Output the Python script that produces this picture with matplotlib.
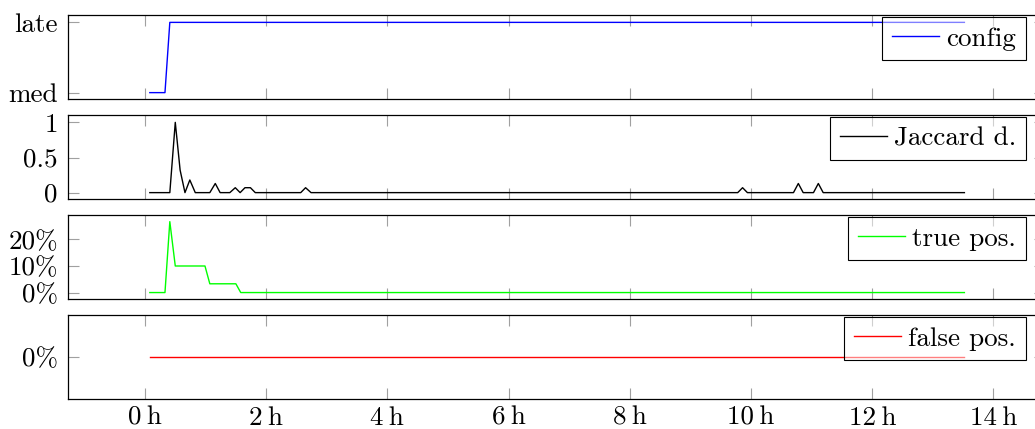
import matplotlib
matplotlib.use("Agg")
import matplotlib.pyplot as plt

# ---------------- data ----------------
config_levels = ["med", "late"]
config_t = [0.08, 0.33, 0.41, 13.52]
config_v = ["med", "med", "late", "late"]

jacc_t = [0.08, 0.41, 0.50, 0.58, 0.66, 0.74, 0.83, 1.07, 1.16, 1.24, 1.40, 1.49,
          1.57, 1.65, 1.74, 1.82, 2.57, 2.65, 2.74, 9.78, 9.86, 9.94, 10.70, 10.78,
          10.86, 11.03, 11.11, 11.19, 13.52]
jacc_v = [0, 0, 1.0, 0.32, 0, 0.18, 0, 0, 0.13, 0, 0, 0.07,
          0, 0.07, 0.07, 0, 0, 0.07, 0, 0, 0.07, 0, 0, 0.13,
          0, 0, 0.13, 0, 0]

tp_t = [0.08, 0.33, 0.41, 0.50, 0.99, 1.07, 1.50, 1.58, 13.52]
tp_v = [0, 0, 26.7, 10, 10, 3.3, 3.3, 0, 0]

fp_t = [0.08, 13.52]
fp_v = [0, 0]

x_ticks = [0, 2, 4, 6, 8, 10, 12, 14]
x_ticklabels = [f"{h}\u2009h" for h in x_ticks]

# ---------------- style ----------------
FONT = ["cmr10", "DejaVu Serif"]
plt.rcParams["font.family"] = FONT
plt.rcParams["axes.formatter.use_mathtext"] = True
FS = 19.5

W, H = 1035, 429
fig = plt.figure(figsize=(W / 100, H / 100), dpi=100)

left_px, right_px = 68.3, 1045
xlim = (-1.265, 14.85)


def make_ax(i):
    top = 15 + 100 * i
    bot = 99.3 + 100 * i
    ax = fig.add_axes([left_px / W, 1 - bot / H, (right_px - left_px) / W, (bot - top) / H])
    ax.set_xlim(*xlim)
    ax.set_xticks(x_ticks)
    for s in ax.spines.values():
        s.set_linewidth(0.9)
        s.set_color("black")
    ax.tick_params(direction="in", length=8, width=0.8, color="#a0a0a0",
                   top=True, right=True, labelsize=FS, pad=7.5)
    ax.tick_params(axis="x", pad=5)
    return ax


def add_legend(ax, right_px_, top_px_):
    leg = ax.legend(loc="upper right",
                    bbox_to_anchor=(right_px_ / W, 1 - top_px_ / H),
                    bbox_transform=fig.transFigure, borderaxespad=0,
                    fontsize=FS, fancybox=False, handlelength=1.75,
                    handletextpad=0.25, borderpad=0.36, framealpha=None)
    fr = leg.get_frame()
    fr.set_alpha(None)
    fr.set_facecolor((1, 1, 1, 0.5))
    fr.set_edgecolor("black")
    fr.set_linewidth(0.8)
    return leg


# panel 1: config
ax1 = make_ax(0)
ax1.plot(config_t, [config_levels.index(v) for v in config_v], color="blue", lw=1.0, label="config")
ax1.set_ylim(-0.095, 1.105)
ax1.set_yticks(range(len(config_levels)))
ax1.set_yticklabels(config_levels)
ax1.set_xticklabels([])
add_legend(ax1, 1025.7, 17)

# panel 2: Jaccard distance
ax2 = make_ax(1)
ax2.plot(jacc_t, jacc_v, color="black", lw=1.0, label="Jaccard d.")
ax2.set_ylim(-0.095, 1.105)
ax2.set_yticks([0, 0.5, 1])
ax2.set_yticklabels(["0", "0.5", "1"])
ax2.set_xticklabels([])
add_legend(ax2, 1025.7, 117)

# panel 3: true positives
ax3 = make_ax(2)
ax3.plot(tp_t, tp_v, color="#00ff00", lw=1.0, label="true pos.")
ax3.set_ylim(-2.54, 29.2)
ax3.set_yticks([0, 10, 20])
ax3.set_yticklabels(["0%", "10%", "20%"])
ax3.set_xticklabels([])
add_legend(ax3, 1025.7, 217)

# panel 4: false positives
ax4 = make_ax(3)
ax4.plot(fp_t, fp_v, color="red", lw=1.0, label="false pos.")
ax4.set_ylim(-1, 1)
ax4.set_yticks([0])
ax4.set_yticklabels(["0%"])
ax4.set_xticklabels(x_ticklabels)
add_legend(ax4, 1025.7, 317)

fig.savefig("out.png", dpi=100)
